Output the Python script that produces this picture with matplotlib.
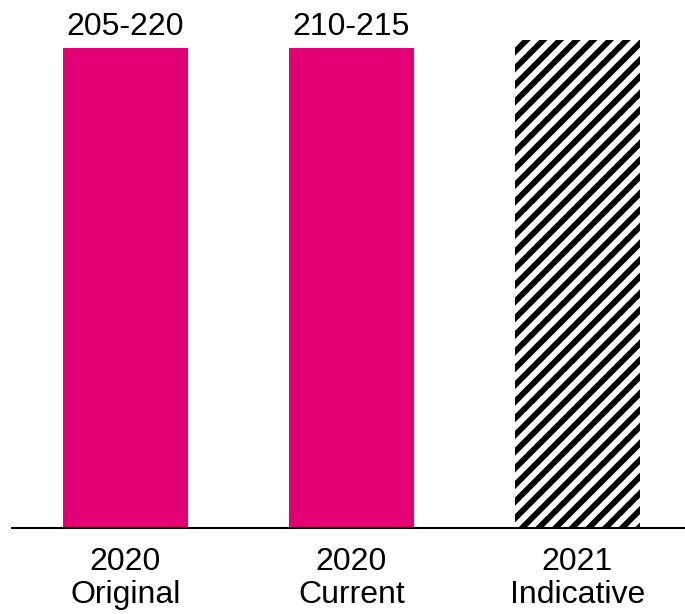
import matplotlib.pyplot as plt

# bar data
categories = ['2020\nOriginal', '2020\nCurrent', '2021\nIndicative']
values = [212.5, 212.5, 216]
range_labels = ['205-220', '210-215']

magenta = '#E20074'

plt.rcParams['font.family'] = ['Liberation Sans', 'DejaVu Sans']
plt.rcParams['hatch.linewidth'] = 4.2

fig = plt.figure(figsize=(6.85, 6.14), dpi=100)
ax = fig.add_axes([12 / 685, 86 / 614, 1 - 12 / 685, 528 / 614])

x = range(len(categories))
bars = ax.bar(x[:2], values[:2], width=0.553, color=magenta)
ax.bar(x[2], values[2], width=0.553, facecolor='white', edgecolor='black',
       linewidth=0, hatch='//')

ax.bar_label(bars, labels=range_labels, padding=4, fontsize=23)

ax.set_xlim(-0.502, 2.476)
ax.set_ylim(0, values[2] * 528 / 488)
ax.set_xticks(list(x))
ax.set_xticklabels(categories, fontsize=23, linespacing=1.12)
ax.tick_params(axis='x', length=0, pad=14)
ax.set_yticks([])

for side in ['top', 'left', 'right']:
    ax.spines[side].set_visible(False)
ax.spines['bottom'].set_linewidth(1.5)

fig.savefig('out.png', dpi=100)
